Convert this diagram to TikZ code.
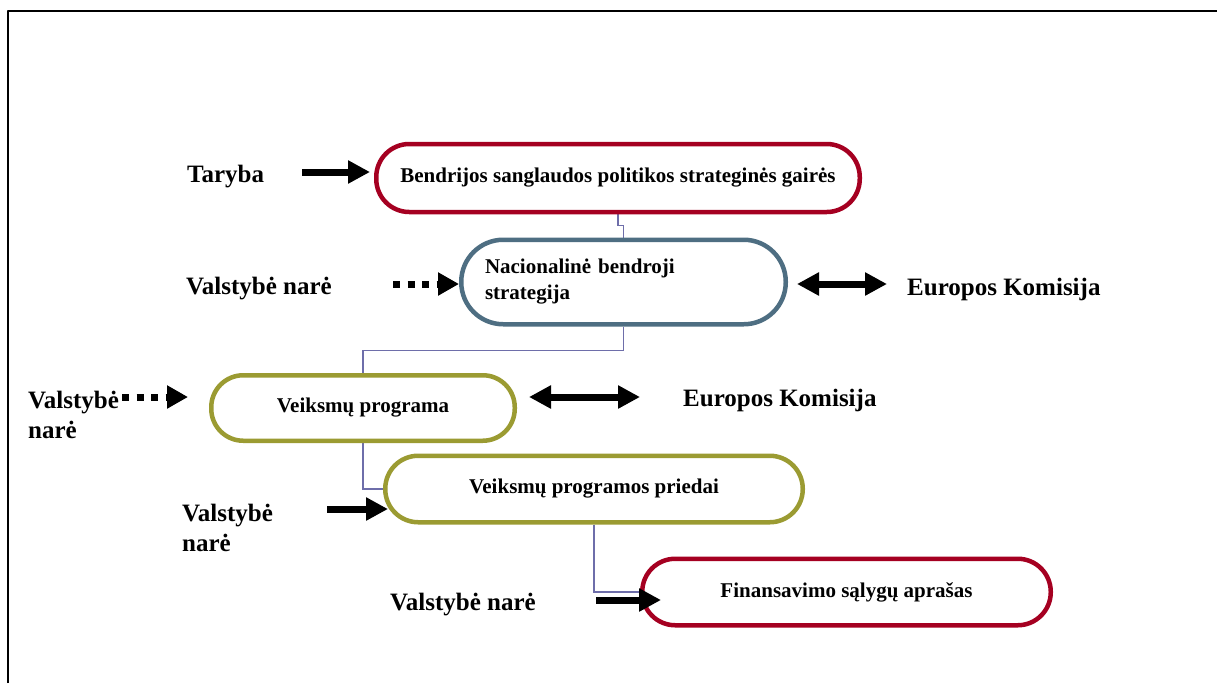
\documentclass[tikz,border=0pt]{standalone}
\usepackage{fontspec}
\setmainfont{Liberation Serif}
\usetikzlibrary{arrows.meta,backgrounds}
\definecolor{gairred}{RGB}{165,0,33}
\definecolor{stratblue}{RGB}{78,110,130}
\definecolor{progolive}{RGB}{155,155,50}
\definecolor{linkviolet}{RGB}{110,110,170}
\begin{document}
\begin{tikzpicture}[x=1pt, y=-1pt, line join=round,
    box/.style={draw, line width=4.5pt, fill=white, inner sep=0pt,
        font=\fontsize{21}{26}\selectfont\bfseries},
    lbl/.style={anchor=west, inner sep=0pt, align=left,
        font=\fontsize{25}{30}\selectfont\bfseries},
    link/.style={draw=linkviolet, line width=1.2pt},
    fat/.style={line width=7pt, -{Triangle[length=22pt,width=22pt]}},
    dotfat/.style={line width=7pt, dash pattern=on 7pt off 7.5pt,
        -{Triangle[length=21pt,width=22pt]}},
    both/.style={line width=7pt,
        {Triangle[length=22pt,width=22pt]}-{Triangle[length=22pt,width=22pt]}}]
    \useasboundingbox (0,0) rectangle (1217,683);
    \draw[line width=2.5pt, black] (8,683) -- (8,11) -- (1217,11);
    % boxes
    \node[box, draw=gairred, minimum width=483.5pt, minimum height=68pt, rounded corners=33pt] (b1) at (618,178) {Bendrijos sanglaudos politikos strateginės gairės};
    \node[box, draw=stratblue, minimum width=324.5pt, minimum height=84.5pt, rounded corners=42pt, text width=277pt, align=left] (b2) at (623.5,282) {Nacionalinė bendroji\\strategija};
    \node[box, draw=progolive, minimum width=303.5pt, minimum height=65.5pt, rounded corners=32pt] (b3) at (363,408) {Veiksmų programa};
    \node[box, draw=progolive, minimum width=417.5pt, minimum height=66.5pt, rounded corners=33pt] (b4) at (594,489) {Veiksmų programos priedai};
    \node[box, draw=gairred, minimum width=408.5pt, minimum height=66.5pt, rounded corners=33pt] (b5) at (846.5,592) {Finansavimo sąlygų aprašas};
    % labels
    \node[lbl] (tar) at (187,177) {Taryba};
    \node[lbl] (vn2) at (186,289) {Valstybė narė};
    \node[lbl] (ek2) at (907,289) {Europos Komisija};
    \node[lbl] (vn3) at (28,415) {Valstybė\\narė};
    \node[lbl] (ek3) at (683,400) {Europos Komisija};
    \node[lbl] (vn4) at (182,528) {Valstybė\\narė};
    \node[lbl] (vn5) at (390,605) {Valstybė narė};
    % arrows
    \coordinate (a1) at (302,172);
    \coordinate (a2) at (393,284);
    \coordinate (a3) at (122,397);
    \coordinate (a4) at (327,509);
    \coordinate (a5) at (596,600);
    \coordinate (d2a) at (797,284);
    \coordinate (d2b) at (887,284);
    \coordinate (d3a) at (529,397);
    \coordinate (d3b) at (640,397);
    \draw[fat] (a1) -- ([xshift=-4pt]a1 -| b1.west);
    \draw[dotfat] (a2) -- (a2 -| b2.west);
    \draw[dotfat] (a3) -- ([xshift=-21pt]a3 -| b3.west);
    \draw[fat] (a4) -- ([xshift=5pt]a4 -| b4.west);
    \draw[fat] (a5) -- ([xshift=21pt]a5 -| b5.west);
    \draw[both] (d2a) -- (d2b);
    \draw[both] (d3a) -- (d3b);
    % links between boxes
    \begin{scope}[on background layer]
        \draw[link] (b1.south) -- ++(0,11) -| (b2.north);
        \draw[link] (b2.south) -- ++(0,24) -| (b3.north);
        \draw[link] (b3.south) |- (b4.west);
        \draw[link] (b4.south) |- (b5.west);
    \end{scope}
\end{tikzpicture}
\end{document}
